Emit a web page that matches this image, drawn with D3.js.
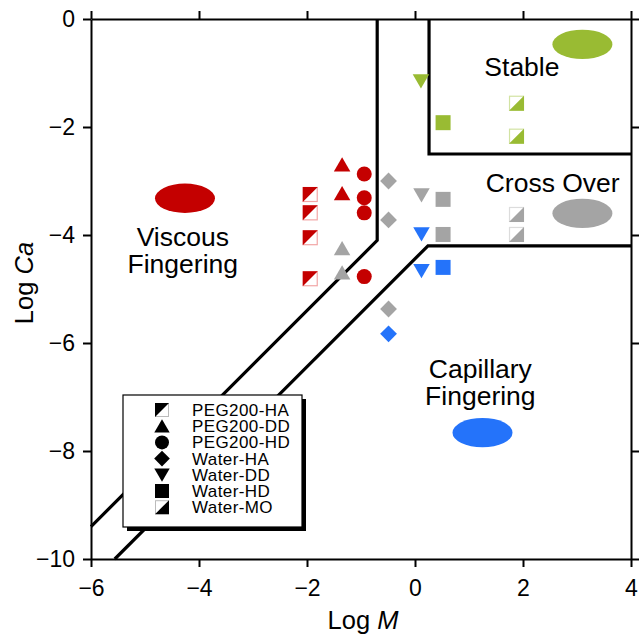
<!DOCTYPE html>
<html>
<head>
<meta charset="utf-8">
<script src="https://cdn.jsdelivr.net/npm/d3@7"></script>
<style>
  body { margin: 0; background: #fff; }
  svg { font-family: "Liberation Sans", Arial, Helvetica, sans-serif; }
</style>
</head>
<body>
<script>
// axis ticks
const xTicks = [-6, -4, -2, 0, 2, 4];
const yTicks = [0, -2, -4, -6, -8, -10];

// legend entries, in order
const seriesNames = ["PEG200-HA", "PEG200-DD", "PEG200-HD", "Water-HA", "Water-DD", "Water-HD", "Water-MO"];

// points per series: [log M, log Ca, regime]
const peg200HA = [[-1.94, -3.25, "viscous"], [-1.94, -3.59, "viscous"], [-1.94, -4.05, "viscous"], [-1.94, -4.81, "viscous"]];
const peg200DD = [[-1.35, -2.70, "viscous"], [-1.35, -3.23, "viscous"], [-1.35, -4.25, "cross"], [-1.35, -4.70, "cross"]];
const peg200HD = [[-0.94, -2.87, "viscous"], [-0.94, -3.31, "viscous"], [-0.94, -3.59, "viscous"], [-0.94, -4.77, "viscous"]];
const waterHA = [[-0.49, -3.00, "cross"], [-0.49, -3.72, "cross"], [-0.49, -5.37, "cross"], [-0.49, -5.83, "capillary"]];
const waterDD = [[0.11, -1.15, "stable"], [0.12, -3.26, "cross"], [0.12, -3.98, "capillary"], [0.12, -4.66, "capillary"]];
const waterHD = [[0.52, -1.92, "stable"], [0.52, -3.34, "cross"], [0.52, -3.99, "cross"], [0.52, -4.60, "capillary"]];
const waterMO = [[1.88, -1.56, "stable"], [1.88, -2.17, "stable"], [1.88, -3.62, "cross"], [1.88, -3.99, "cross"]];

// regime boundaries [log M, log Ca]
const viscousBoundary = [[-0.70, 0], [-0.70, -4.1], [-6, -9.4]];
const capillaryBoundary = [[-5.56, -10], [0.24, -4.2], [4, -4.2]];
const stableBoundary = [[0.26, 0], [0.26, -2.5], [4, -2.5]];

// regime labels and their colour keys
const regimeNames = ["viscous", "capillary", "cross", "stable"];
const regimeLabels = [["Viscous", "Fingering"], ["Capillary", "Fingering"], ["Cross Over"], ["Stable"]];
const regimeLabelPos = [[-4.3, -4.2], [1.21, -6.65], [2.55, -3.2], [1.98, -1.05]];
const regimeKeyPos = [[-4.26, -3.32], [1.25, -7.66], [3.1, -3.6], [3.1, -0.47]];
const regimeColors = ["#c40000", "#2473fa", "#a4a4a4", "#99bb33"];
const regimeLight = ["#f2a6a6", "#a9c8fb", "#dcdcdc", "#d2e3a3"];

const width = 639, height = 642;
const margin = { left: 91, top: 19, right: 8, bottom: 83 };

const x = d3.scaleLinear().domain([-6, 4]).range([margin.left, width - margin.right]);
const y = d3.scaleLinear().domain([-10, 0]).range([height - margin.bottom, margin.top]);
const color = d3.scaleOrdinal().domain(regimeNames).range(regimeColors);
const light = d3.scaleOrdinal().domain(regimeNames).range(regimeLight);

const svg = d3.select("body").append("svg")
  .attr("width", width)
  .attr("height", height);

// custom symbol types, all centred on their bounding box
const half = s => Math.sqrt(s) / 2;
const triUp = { draw(c, s) { const h = half(s); c.moveTo(0, -h); c.lineTo(h * 1.1, h * 0.9); c.lineTo(-h * 1.1, h * 0.9); c.closePath(); } };
const triDown = { draw(c, s) { const h = half(s); c.moveTo(0, h); c.lineTo(h * 1.1, -h * 0.9); c.lineTo(-h * 1.1, -h * 0.9); c.closePath(); } };
const diamond = { draw(c, s) { const h = half(s) * 1.12; c.moveTo(0, -h); c.lineTo(h, 0); c.lineTo(0, h); c.lineTo(-h, 0); c.closePath(); } };
const square = { draw(c, s) { const h = half(s); c.rect(-h, -h, 2 * h, 2 * h); } };
const circle = { draw(c, s) { const h = half(s); c.moveTo(h, 0); c.arc(0, 0, h, 0, 2 * Math.PI); } };
const upperLeft = { draw(c, s) { const h = half(s); c.moveTo(-h, -h); c.lineTo(h, -h); c.lineTo(-h, h); c.closePath(); } };
const lowerRight = { draw(c, s) { const h = half(s); c.moveTo(h, -h); c.lineTo(h, h); c.lineTo(-h, h); c.closePath(); } };

const seriesData = [peg200HA, peg200DD, peg200HD, waterHA, waterDD, waterHD, waterMO];
const seriesShape = [upperLeft, triUp, circle, diamond, triDown, square, lowerRight];
const halfSquare = [true, false, false, false, false, false, true];
const markerSize = 15 * 15;

// boundary lines
const line = d3.line().x(d => x(d[0])).y(d => y(d[1]));
svg.append("g").selectAll("path")
  .data([viscousBoundary, capillaryBoundary, stableBoundary])
  .join("path")
  .attr("d", line)
  .attr("fill", "none")
  .attr("stroke", "#000")
  .attr("stroke-width", 3.2)
  .attr("stroke-linejoin", "miter");

// regime key ellipses
svg.append("g").selectAll("ellipse")
  .data(regimeNames)
  .join("ellipse")
  .attr("cx", (d, i) => x(regimeKeyPos[i][0]))
  .attr("cy", (d, i) => y(regimeKeyPos[i][1]))
  .attr("rx", 30)
  .attr("ry", 14.7)
  .attr("fill", d => color(d));

// regime labels
regimeNames.forEach((r, i) => {
  const t = svg.append("text")
    .attr("x", x(regimeLabelPos[i][0]))
    .attr("y", y(regimeLabelPos[i][1]))
    .attr("text-anchor", "middle")
    .attr("font-size", 26.5)
    .attr("fill", "#000");
  regimeLabels[i].forEach((s, j) => {
    t.append("tspan")
      .attr("x", x(regimeLabelPos[i][0]))
      .attr("dy", j === 0 ? 0 : 27)
      .text(s);
  });
});

// data points
seriesData.forEach((pts, k) => {
  const sym = d3.symbol().type(seriesShape[k]).size(markerSize);
  const g = svg.append("g");
  if (halfSquare[k]) {
    g.selectAll("rect")
      .data(pts)
      .join("rect")
      .attr("x", d => x(d[0]) - 7)
      .attr("y", d => y(d[1]) - 7)
      .attr("width", 14)
      .attr("height", 14)
      .attr("fill", "#fff")
      .attr("stroke", d => light(d[2]))
      .attr("stroke-width", 1.2);
  }
  g.selectAll("path")
    .data(pts)
    .join("path")
    .attr("transform", d => `translate(${x(d[0])},${y(d[1])})`)
    .attr("d", sym)
    .attr("fill", d => color(d[2]));
});

// legend
const lg = svg.append("g").attr("transform", "translate(123,395)");
const lgW = 179, lgH = 132;
lg.append("rect").attr("x", 4).attr("y", 4).attr("width", lgW).attr("height", lgH).attr("fill", "#000");
lg.append("rect").attr("width", lgW).attr("height", lgH).attr("fill", "#fff").attr("stroke", "#000").attr("stroke-width", 1.2);
seriesNames.forEach((name, k) => {
  const cy = 15 + k * 16.2;
  const sym = d3.symbol().type(seriesShape[k]).size(14 * 14);
  if (halfSquare[k]) {
    lg.append("rect")
      .attr("x", 39 - 6.5).attr("y", cy - 6.5)
      .attr("width", 13).attr("height", 13)
      .attr("fill", "#fff").attr("stroke", "#bbb").attr("stroke-width", 1);
  }
  lg.append("path")
    .attr("transform", `translate(39,${cy})`)
    .attr("d", sym)
    .attr("fill", "#000");
  lg.append("text")
    .attr("x", 69)
    .attr("y", cy + 6)
    .attr("font-size", 17)
    .attr("letter-spacing", 0.4)
    .text(name);
});

// axes
const axisBottom = d3.axisBottom(x).tickValues(xTicks).tickSizeInner(8).tickSizeOuter(0).tickPadding(13);
const axisLeft = d3.axisLeft(y).tickValues(yTicks).tickSizeInner(8).tickSizeOuter(0).tickPadding(8);
const axisTop = d3.axisTop(x).tickValues(xTicks).tickSizeInner(8).tickSizeOuter(0).tickFormat("");
const axisRight = d3.axisRight(y).tickValues(yTicks).tickSizeInner(8).tickSizeOuter(0).tickFormat("");

const plotBottom = height - margin.bottom, plotRight = width - margin.right;
[
  svg.append("g").attr("transform", `translate(0,${plotBottom})`).call(axisBottom),
  svg.append("g").attr("transform", `translate(${margin.left},0)`).call(axisLeft),
  svg.append("g").attr("transform", `translate(0,${margin.top})`).call(axisTop),
  svg.append("g").attr("transform", `translate(${plotRight},0)`).call(axisRight)
].forEach(g => {
  g.selectAll("path, line").attr("stroke", "#000").attr("stroke-width", 2);
  g.selectAll("text").attr("font-size", 23).attr("fill", "#000")
    .attr("font-family", "'Liberation Sans', Arial, sans-serif");
});

// axis titles
const xTitle = svg.append("text")
  .attr("x", 363).attr("y", 629)
  .attr("text-anchor", "middle")
  .attr("font-size", 25.5);
xTitle.append("tspan").text("Log ");
xTitle.append("tspan").attr("font-style", "italic").text("M");

const yTitle = svg.append("text")
  .attr("transform", "translate(33,283) rotate(-90)")
  .attr("text-anchor", "middle")
  .attr("font-size", 25.5);
yTitle.append("tspan").text("Log ");
yTitle.append("tspan").attr("font-style", "italic").text("Ca");
</script>
</body>
</html>
